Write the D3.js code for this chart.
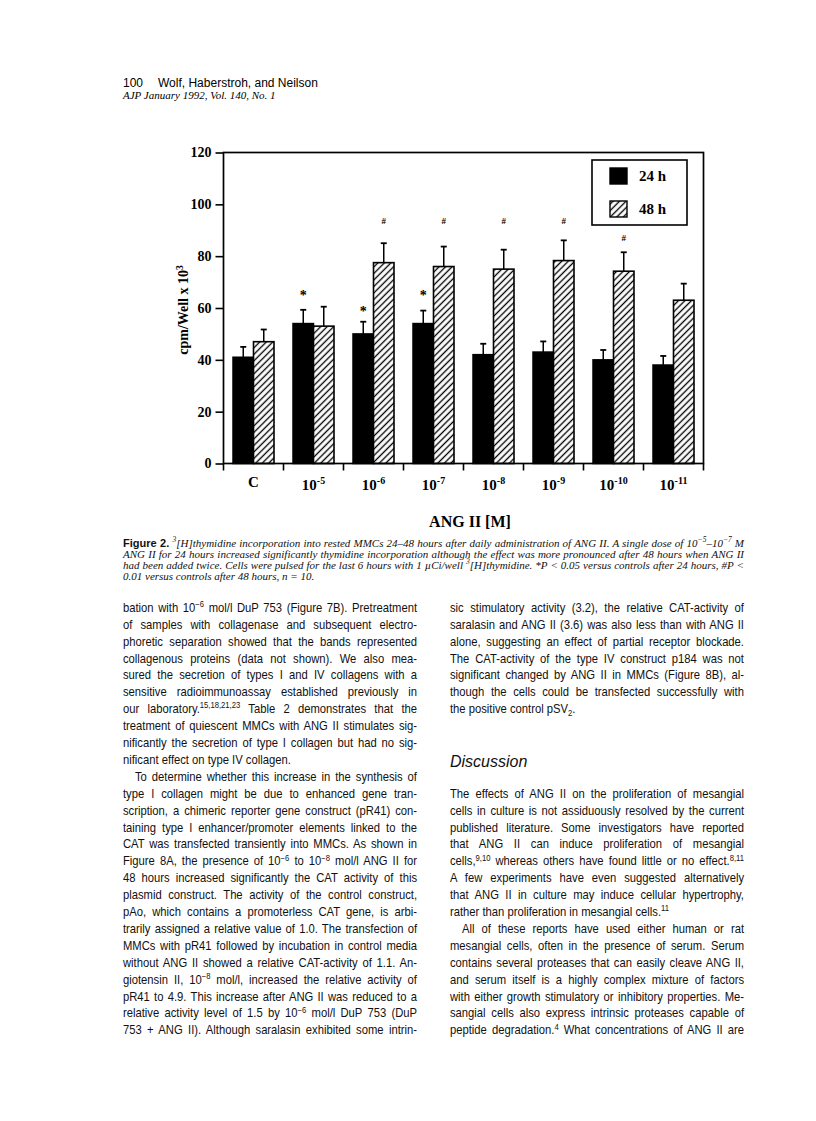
<!DOCTYPE html>
<html><head><meta charset="utf-8">
<script src="https://cdn.jsdelivr.net/npm/d3@7/dist/d3.min.js"></script>
<style>body{margin:0;background:#fff}svg{display:block}</style>
</head><body>
<svg id="page" width="816" height="1121"></svg>
<script>
// ---------- chart data ----------
const categories = ["C", "10-5", "10-6", "10-7", "10-8", "10-9", "10-10", "10-11"];
const catBase = ["C", "10", "10", "10", "10", "10", "10", "10"];
const catExp = ["", "-5", "-6", "-7", "-8", "-9", "-10", "-11"];
const series = ["24 h", "48 h"];
const mean24 = [41, 54, 50, 54, 42, 43, 40, 38];
const sem24 = [4, 5.3, 4.7, 5, 4.2, 4.1, 3.8, 3.5];
const mean48 = [47, 53, 77.5, 76, 75, 78.3, 74.2, 63];
const sem48 = [4.7, 7.5, 7.5, 7.7, 7.5, 7.8, 7.3, 6.4];
const sig24 = [null, 65.5, 59.5, 65.5, null, null, null, null];
const sig48 = [null, null, 93.5, 93.5, 93.5, 93.5, 87, null];
const yTicks = [0, 20, 40, 60, 80, 100, 120];
const yLabel = "cpm/Well x 10";
const yLabelExp = "3";
const xLabel = "ANG II [M]";

// ---------- page text ----------
const header1 = "100";
const header2 = "Wolf, Haberstroh, and Neilson";
const header3 = "AJP January 1992, Vol. 140, No. 1";
const captionLines = [
  "**Figure 2.** ^{3}[H]thymidine incorporation into rested MMCs 24–48 hours after daily administration of ANG II. A single dose of 10^{−5}–10^{−7} M",
  "ANG II for 24 hours increased significantly thymidine incorporation although the effect was more pronounced after 48 hours when ANG II",
  "had been added twice. Cells were pulsed for the last 6 hours with 1 µCi/well ^{3}[H]thymidine. *P < 0.05 versus controls after 24 hours, #P <",
  "0.01 versus controls after 48 hours, n = 10."
];
const leftCol = [
  ["bation with 10^{−6} mol/l DuP 753 (Figure 7B). Pretreatment", 0],
  ["of samples with collagenase and subsequent electro-", 1],
  ["phoretic separation showed that the bands represented", 2],
  ["collagenous proteins (data not shown). We also mea-", 3],
  ["sured the secretion of types I and IV collagens with a", 4],
  ["sensitive radioimmunoassay established previously in", 5],
  ["our laboratory.^{15,18,21,23} Table 2 demonstrates that the", 6],
  ["treatment of quiescent MMCs with ANG II stimulates sig-", 7],
  ["nificantly the secretion of type I collagen but had no sig-", 8],
  ["nificant effect on type IV collagen.", 9, "end"],
  ["To determine whether this increase in the synthesis of", 10, "indent"],
  ["type I collagen might be due to enhanced gene tran-", 11],
  ["scription, a chimeric reporter gene construct (pR41) con-", 12],
  ["taining type I enhancer/promoter elements linked to the", 13],
  ["CAT was transfected transiently into MMCs. As shown in", 14],
  ["Figure 8A, the presence of 10^{−6} to 10^{−8} mol/l ANG II for", 15],
  ["48 hours increased significantly the CAT activity of this", 16],
  ["plasmid construct. The activity of the control construct,", 17],
  ["pAo, which contains a promoterless CAT gene, is arbi-", 18],
  ["trarily assigned a relative value of 1.0. The transfection of", 19],
  ["MMCs with pR41 followed by incubation in control media", 20],
  ["without ANG II showed a relative CAT-activity of 1.1. An-", 21],
  ["giotensin II, 10^{−8} mol/l, increased the relative activity of", 22],
  ["pR41 to 4.9. This increase after ANG II was reduced to a", 23],
  ["relative activity level of 1.5 by 10^{−6} mol/l DuP 753 (DuP", 24],
  ["753 + ANG II). Although saralasin exhibited some intrin-", 25]
];
const rightCol = [
  ["sic stimulatory activity (3.2), the relative CAT-activity of", 0],
  ["saralasin and ANG II (3.6) was also less than with ANG II", 1],
  ["alone, suggesting an effect of partial receptor blockade.", 2],
  ["The CAT-activity of the type IV construct p184 was not", 3],
  ["significant changed by ANG II in MMCs (Figure 8B), al-", 4],
  ["though the cells could be transfected successfully with", 5],
  ["the positive control pSV_{2}.", 6, "end"],
  ["The effects of ANG II on the proliferation of mesangial", 11],
  ["cells in culture is not assiduously resolved by the current", 12],
  ["published literature. Some investigators have reported", 13],
  ["that ANG II can induce proliferation of mesangial", 14],
  ["cells,^{9,10} whereas others have found little or no effect.^{8,11}", 15],
  ["A few experiments have even suggested alternatively", 16],
  ["that ANG II in culture may induce cellular hypertrophy,", 17],
  ["rather than proliferation in mesangial cells.^{11}", 18, "end"],
  ["All of these reports have used either human or rat", 19, "indent"],
  ["mesangial cells, often in the presence of serum. Serum", 20],
  ["contains several proteases that can easily cleave ANG II,", 21],
  ["and serum itself is a highly complex mixture of factors", 22],
  ["with either growth stimulatory or inhibitory properties. Me-", 23],
  ["sangial cells also express intrinsic proteases capable of", 24],
  ["peptide degradation.^{4} What concentrations of ANG II are", 25]
];
const headingText = "Discussion";

// ---------- drawing ----------
const svg = d3.select("#page");
const SERIF = "'Liberation Serif','Times New Roman',serif";
const SANS = "'Liberation Sans',Arial,Helvetica,sans-serif";

const defs = svg.append("defs");
const hp = 4.6;
const pat = defs.append("pattern").attr("id", "hatch")
  .attr("patternUnits", "userSpaceOnUse").attr("width", hp).attr("height", hp)
  .attr("patternTransform", "rotate(45)");
pat.append("rect").attr("width", hp).attr("height", hp).attr("fill", "#fff");
pat.append("line").attr("x1", hp / 2).attr("x2", hp / 2).attr("y1", -1).attr("y2", hp + 1)
  .attr("stroke", "#000").attr("stroke-width", 1.35);

const x = d3.scaleBand().domain(categories).range([223.5, 703.5]).paddingInner(0).paddingOuter(0);
const y = d3.scaleLinear().domain([0, 120]).range([463.5, 152.5]);
const bw = 20.5;

const chart = svg.append("g");
const rows = categories.map((c, i) => ({c, i, m24: mean24[i], s24: sem24[i], m48: mean48[i], s48: sem48[i]}));

// bars
const grp = chart.selectAll("g.cat").data(rows).join("g").attr("class", "cat");
grp.append("rect")
  .attr("x", d => x(d.c) + x.bandwidth() / 2 - bw).attr("width", bw)
  .attr("y", d => y(d.m24)).attr("height", d => y(0) - y(d.m24))
  .attr("fill", "#000").attr("stroke", "#000").attr("stroke-width", 1.5);
grp.append("rect")
  .attr("x", d => x(d.c) + x.bandwidth() / 2).attr("width", bw)
  .attr("y", d => y(d.m48)).attr("height", d => y(0) - y(d.m48))
  .attr("fill", "url(#hatch)").attr("stroke", "#000").attr("stroke-width", 1.6);

// error bars
function errBar(sel, cxf, mf, sf) {
  sel.append("line").attr("x1", cxf).attr("x2", cxf)
    .attr("y1", d => y(mf(d))).attr("y2", d => y(mf(d) + sf(d)))
    .attr("stroke", "#000").attr("stroke-width", 1.5);
  sel.append("line").attr("x1", d => cxf(d) - 3).attr("x2", d => cxf(d) + 3)
    .attr("y1", d => y(mf(d) + sf(d))).attr("y2", d => y(mf(d) + sf(d)))
    .attr("stroke", "#000").attr("stroke-width", 1.8);
}
errBar(grp, d => x(d.c) + x.bandwidth() / 2 - bw / 2, d => d.m24, d => d.s24);
errBar(grp, d => x(d.c) + x.bandwidth() / 2 + bw / 2, d => d.m48, d => d.s48);

// significance markers
chart.selectAll("text.s24").data(rows.filter(d => sig24[d.i] != null)).join("text")
  .attr("class", "s24").attr("text-anchor", "middle")
  .attr("x", d => x(d.c) + x.bandwidth() / 2 - bw / 2)
  .attr("y", d => y(sig24[d.i]) + 6.7)
  .attr("font-family", SERIF).attr("font-weight", "bold").attr("font-size", 14).text("*");
chart.selectAll("text.s48").data(rows.filter(d => sig48[d.i] != null)).join("text")
  .attr("class", "s48").attr("text-anchor", "middle")
  .attr("x", d => x(d.c) + x.bandwidth() / 2 + bw / 2)
  .attr("y", d => y(sig48[d.i]) + 3)
  .attr("font-family", SERIF).attr("font-weight", "bold").attr("font-size", 9).text("#");

// frame
chart.append("rect").attr("x", 223.5).attr("y", 152.5).attr("width", 480).attr("height", 311)
  .attr("fill", "none").attr("stroke", "#000").attr("stroke-width", 1.7);

// y axis
const yAxis = chart.append("g").attr("transform", "translate(223.5,0)")
  .call(d3.axisLeft(y).tickValues(yTicks).tickSize(8).tickPadding(4).tickFormat(d3.format("d")));
yAxis.select(".domain").remove();
yAxis.selectAll("line").attr("stroke", "#000").attr("stroke-width", 1.6);
yAxis.selectAll("text").attr("font-family", SERIF).attr("font-weight", "bold")
  .attr("font-size", 14).attr("fill", "#000");

// x axis ticks at band edges
const edges = categories.map(c => x(c)).concat([x.range()[1]]);
chart.selectAll("line.xt").data(edges).join("line").attr("class", "xt")
  .attr("x1", d => d).attr("x2", d => d).attr("y1", 463.5).attr("y2", 470.5)
  .attr("stroke", "#000").attr("stroke-width", 1.6);
const xl = chart.selectAll("text.xl").data(rows).join("text").attr("class", "xl")
  .attr("text-anchor", "middle")
  .attr("x", d => x(d.c) + x.bandwidth() / 2)
  .attr("y", d => d.i === 0 ? 487 : 490)
  .attr("font-family", SERIF).attr("font-weight", "bold").attr("font-size", 15);
xl.append("tspan").text(d => catBase[d.i]);
xl.append("tspan").attr("dy", -6).attr("font-size", 10).text(d => catExp[d.i]);

chart.append("text").attr("x", 470).attr("y", 527).attr("text-anchor", "middle")
  .attr("font-family", SERIF).attr("font-weight", "bold").attr("font-size", 16).text(xLabel);

const yl = chart.append("text").attr("transform", "translate(188,310) rotate(-90)")
  .attr("text-anchor", "middle").attr("font-family", SERIF).attr("font-weight", "bold").attr("font-size", 14);
yl.append("tspan").text(yLabel);
yl.append("tspan").attr("dy", -5).attr("font-size", 9.5).text(yLabelExp);

// legend
const lg = chart.append("g");
lg.append("rect").attr("x", 592).attr("y", 160).attr("width", 95).attr("height", 65)
  .attr("fill", "#fff").attr("stroke", "#000").attr("stroke-width", 1.6);
const li = lg.selectAll("g.li").data(series).join("g").attr("class", "li")
  .attr("transform", (d, i) => `translate(610,${168 + i * 33})`);
li.append("rect").attr("width", 17).attr("height", 16)
  .attr("fill", (d, i) => i === 0 ? "#000" : "url(#hatch)").attr("stroke", "#000").attr("stroke-width", 1.4);
li.append("text").attr("x", 29).attr("y", 12.5).attr("font-family", SERIF).attr("font-weight", "bold")
  .attr("font-size", 15).text(d => d);

// ---------- text helpers ----------
function drawLine(parent, str, o) {
  const t = parent.append("text")
    .attr("transform", `translate(${o.x},${o.y}) scale(${o.k},1)`)
    .attr("font-family", o.family).attr("font-size", o.size)
    .attr("font-style", o.style || "normal").attr("fill", "#111");
  const parts = str.split(/(\^\{[^}]*\}|_\{[^}]*\}|\*\*[^*]+\*\*)/).filter(s => s.length);
  let shift = 0;
  parts.forEach(p => {
    let txt = p, dy = 0, fs = null, bold = false;
    if (p.startsWith("^{")) { txt = p.slice(2, -1); dy = -o.size * 0.38; fs = o.size * 0.68; }
    else if (p.startsWith("_{")) { txt = p.slice(2, -1); dy = o.size * 0.22; fs = o.size * 0.68; }
    else if (p.startsWith("**")) { txt = p.slice(2, -2); bold = true; }
    const ts = t.append("tspan").text(txt).attr("dy", dy - shift);
    shift = dy;
    if (fs) ts.attr("font-size", fs);
    if (bold) ts.attr("font-family", o.boldFamily || o.family).attr("font-weight", "bold").attr("font-style", "normal");
  });
  if (o.justify) {
    const w = t.node().getComputedTextLength();
    const spaces = (str.match(/ /g) || []).length;
    if (spaces > 0) t.style("word-spacing", ((o.width / o.k - w) / spaces).toFixed(3) + "px");
  }
  return t;
}

const page = svg.append("g");
// header
page.append("text").attr("x", 123).attr("y", 86.5).attr("font-family", SANS).attr("font-size", 12).text(header1);
page.append("text").attr("x", 158).attr("y", 86.5).attr("font-family", SANS).attr("font-size", 12).text(header2);
page.append("text").attr("x", 123).attr("y", 98.5).attr("font-family", SERIF).attr("font-style", "italic")
  .attr("font-size", 11).text(header3);

// caption
captionLines.forEach((s, i) => {
  drawLine(page, s, {x: 123, y: 546.5 + i * 11, k: 1, family: SERIF, style: "italic", size: 11,
    boldFamily: SANS, width: 621, justify: i < captionLines.length - 1});
});

// body columns
const G0 = 607.5, GS = 16.9, BSIZE = 12.5, BK = 0.9;
function drawCol(lines, x0) {
  lines.forEach(([s, g, flag]) => {
    const ind = flag === "indent" ? 12 : 0;
    drawLine(page, s, {x: x0 + ind, y: G0 + g * GS + 4.3, k: BK, family: SANS, size: BSIZE,
      width: 294 - ind, justify: flag !== "end"});
  });
}
drawCol(leftCol, 123);
drawCol(rightCol, 450);
page.append("text").attr("x", 450).attr("y", G0 + 9.1 * GS + 6).attr("font-family", SANS)
  .attr("font-style", "italic").attr("font-size", 16).attr("fill", "#111").text(headingText);
</script>
</body></html>
